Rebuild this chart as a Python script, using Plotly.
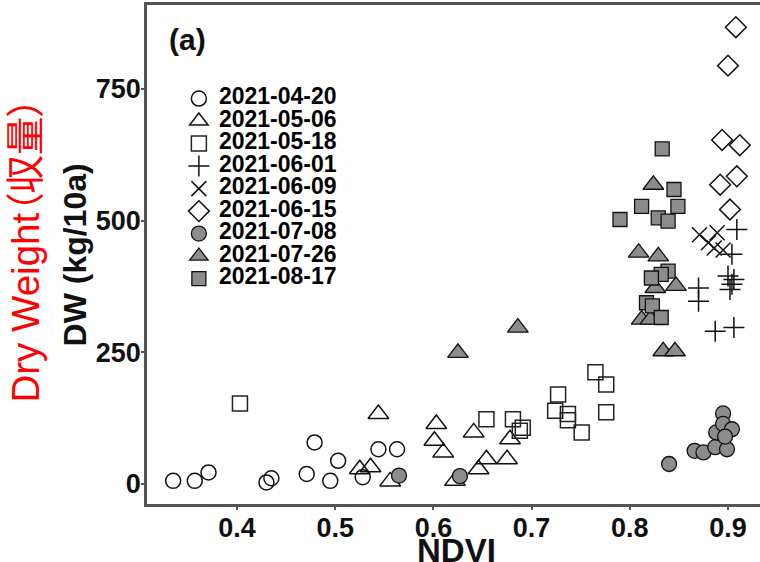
import plotly.graph_objects as go

# ---- data ----
dates = ["2021-04-20", "2021-05-06", "2021-05-18", "2021-06-01", "2021-06-09",
         "2021-06-15", "2021-07-08", "2021-07-26", "2021-08-17"]

ndvi_0420 = [0.335, 0.357, 0.371, 0.430, 0.435, 0.471, 0.479, 0.495, 0.503, 0.528, 0.544, 0.563]
dw_0420 = [6, 6, 22, 3, 11, 19, 79, 6, 44, 13, 66, 66]

ndvi_0506 = [0.525, 0.536, 0.544, 0.556, 0.601, 0.603, 0.610, 0.622, 0.641, 0.646, 0.654, 0.675, 0.678]
dw_0506 = [28, 32, 133, 5, 82, 114, 60, 6, 98, 28, 47, 47, 85]

ndvi_0518 = [0.403, 0.654, 0.681, 0.688, 0.691, 0.724, 0.727, 0.737, 0.737, 0.751, 0.765, 0.776, 0.776]
dw_0518 = [153, 123, 123, 101, 107, 139, 170, 133, 121, 98, 212, 189, 136]

ndvi_0601 = [0.909, 0.904, 0.900, 0.906, 0.904, 0.902, 0.870, 0.870, 0.887, 0.906]
dw_0601 = [483, 436, 395, 388, 379, 369, 372, 347, 290, 297]

ndvi_0609 = [0.871, 0.889, 0.880, 0.886, 0.895]
dw_0609 = [473, 477, 458, 448, 444]

ndvi_0615 = [0.908, 0.900, 0.894, 0.912, 0.909, 0.892, 0.902]
dw_0615 = [867, 794, 653, 643, 584, 568, 521]

ndvi_0708 = [0.565, 0.627, 0.840, 0.866, 0.875, 0.887, 0.888, 0.895, 0.895, 0.899, 0.904, 0.897]
dw_0708 = [16, 15, 38, 63, 60, 70, 98, 134, 114, 66, 104, 90]

ndvi_0726 = [0.625, 0.686, 0.809, 0.824, 0.829, 0.847, 0.826, 0.812, 0.821, 0.834, 0.846]
dw_0726 = [249, 297, 439, 568, 432, 376, 372, 312, 312, 252, 252]

ndvi_0817 = [0.833, 0.845, 0.812, 0.849, 0.790, 0.829, 0.839, 0.839, 0.832, 0.822, 0.817, 0.823, 0.832]
dw_0817 = [636, 559, 527, 527, 502, 505, 499, 404, 398, 391, 344, 338, 316]

x_ticks = [0.4, 0.5, 0.6, 0.7, 0.8, 0.9]
y_ticks = [0, 250, 500, 750]

series_x = [ndvi_0420, ndvi_0506, ndvi_0518, ndvi_0601, ndvi_0609,
            ndvi_0615, ndvi_0708, ndvi_0726, ndvi_0817]
series_y = [dw_0420, dw_0506, dw_0518, dw_0601, dw_0609,
            dw_0615, dw_0708, dw_0726, dw_0817]

# ---- styles ----
GRAY = "#8c8c8c"
styles = [
    dict(symbol="circle-open", size=15, color="#111", line=dict(width=1.5, color="#111")),
    dict(symbol="triangle-up-open", size=18, color="#111", line=dict(width=1.5, color="#111")),
    dict(symbol="square-open", size=15, color="#222", line=dict(width=1.5, color="#222")),
    dict(symbol="cross-thin-open", size=15, color="#111", line=dict(width=1.5, color="#111")),
    dict(symbol="x-thin-open", size=15, color="#111", line=dict(width=1.5, color="#111")),
    dict(symbol="diamond-open", size=16, color="#111", line=dict(width=1.5, color="#111")),
    dict(symbol="circle", size=15, color=GRAY, line=dict(width=1.3, color="#111")),
    dict(symbol="triangle-up", size=18, color=GRAY, line=dict(width=1.3, color="#111")),
    dict(symbol="square", size=14, color=GRAY, line=dict(width=1.3, color="#111")),
]

fig = go.Figure()
for name, xs, ys, st in zip(dates, series_x, series_y, styles):
    fig.add_trace(go.Scatter(
        x=xs, y=ys, mode="markers",
        name='<span style="font-size:23px">' + name + "</span>",
        marker=st,
    ))

FONT = "Liberation Sans, Arial, Helvetica, sans-serif"
AXIS_COLOR = "#555555"

fig.update_layout(
    width=760, height=562,
    margin=dict(l=147, r=0, t=5, b=58),
    paper_bgcolor="white", plot_bgcolor="white",
    font=dict(family=FONT, color="#000"),
    showlegend=True,
    legend=dict(
        x=0.052, y=0.845, xanchor="left", yanchor="top",
        bgcolor="rgba(0,0,0,0)", borderwidth=0,
        font=dict(size=15, family=FONT, color="#000", weight="bold"),
        itemwidth=30, tracegroupgap=0,
    ),
    xaxis=dict(
        range=[0.30835, 0.93259],
        tickvals=x_ticks, ticktext=[f"{v:.1f}" for v in x_ticks],
        showgrid=False, zeroline=False,
        showline=True, mirror=True, linecolor=AXIS_COLOR, linewidth=2.5,
        ticks="outside", ticklen=3, tickwidth=1.5, tickcolor=AXIS_COLOR,
        ticklabelstandoff=-5,
        tickfont=dict(size=27, family=FONT, color="#111", weight="bold"),
    ),
    yaxis=dict(
        range=[-37.9, 909.1],
        tickvals=y_ticks, ticktext=[str(v) for v in y_ticks],
        showgrid=False, zeroline=False,
        showline=True, mirror=False, linecolor=AXIS_COLOR, linewidth=2.5,
        ticks="outside", ticklen=3, tickwidth=1.5, tickcolor=AXIS_COLOR,
        ticklabelstandoff=-5,
        tickfont=dict(size=27, family=FONT, color="#111", weight="bold"),
    ),
)

annotations = [
    dict(text="(a)", x=0.0326, y=0.93, xref="paper", yref="paper",
         xanchor="left", yanchor="middle", showarrow=False,
         font=dict(size=30, family=FONT, color="#111", weight="bold")),
    dict(text="NDVI", x=0.5057, y=-0.093, xref="paper", yref="paper",
         xanchor="center", yanchor="middle", showarrow=False,
         font=dict(size=33, family=FONT, color="#111", weight="bold")),
    dict(text="DW (kg/10a)", x=-0.1175, y=0.50, xref="paper", yref="paper",
         xanchor="center", yanchor="middle", showarrow=False, textangle=-90,
         font=dict(size=32, family=FONT, color="#111", weight="bold")),
    dict(text="Dry Weight<span style=\"font-feature-settings:'palt'\">（収量）</span>",
         x=-0.199, y=0.508, xref="paper", yref="paper",
         xanchor="center", yanchor="middle", showarrow=False, textangle=-90,
         font=dict(size=38.5, family="Liberation Sans, Noto Sans CJK JP, sans-serif", color="#ff0000")),
]
fig.update_layout(annotations=annotations)

fig.write_html("out.html", config={"displayModeBar": False},
               post_script="document.body.style.margin='0';")
